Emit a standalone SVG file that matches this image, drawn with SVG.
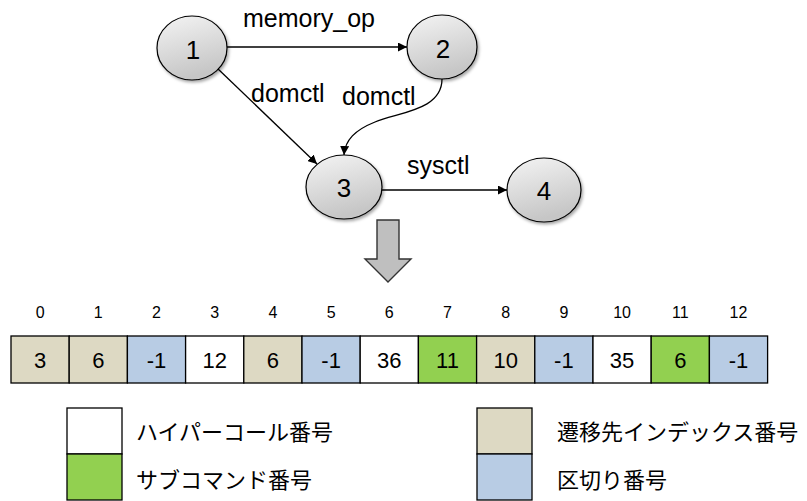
<svg xmlns="http://www.w3.org/2000/svg" width="807" height="501" viewBox="0 0 807 501">
<style>
.lbl{font-family:"Liberation Sans","DejaVu Sans",sans-serif;fill:#000}
.node ellipse{fill:url(#g);stroke:#000;stroke-width:1.2}
.ntxt{font-size:26px;text-anchor:middle}
.elbl{font-size:25px}
.edge{fill:none;stroke:#000;stroke-width:1.3;marker-end:url(#ah)}
.cell rect{stroke:#000;stroke-width:1.3}
.val{font-size:22px;text-anchor:middle}
.idx{font-size:16px;text-anchor:middle}
.jp{font-family:"Noto Sans CJK JP","Noto Sans CJK SC",sans-serif;font-size:22px;fill:#000}
.tan{fill:#ddd9c3}.blue{fill:#b8cce4}.green{fill:#92d050}.white{fill:#fff}
</style>
<defs>
<linearGradient id="g" x1="0" y1="0" x2="0.3" y2="1">
<stop offset="0" stop-color="#f4f4f4"/>
<stop offset="1" stop-color="#c6c6c6"/>
</linearGradient>
<marker id="ah" viewBox="0 0 10 10" refX="10" refY="5" markerWidth="9" markerHeight="9" markerUnits="userSpaceOnUse" orient="auto">
<path d="M0,0 L10,5 L0,10 z" fill="#000"/>
</marker>
<filter id="sh" x="-20%" y="-20%" width="150%" height="150%">
<feDropShadow dx="1.5" dy="2" stdDeviation="1.5" flood-color="#000" flood-opacity="0.35"/>
</filter>
</defs>

<g id="connectors">
<path class="edge" d="M227,47 L407,47"/>
<path class="edge" d="M217,68 L317,164"/>
<path class="edge" d="M442,79 C442,110 400,112 375,122 C355,130 345,140 344,155"/>
<path class="edge" d="M382,190 L507,190"/>
<text class="lbl elbl" x="243" y="27">memory_op</text>
<text class="lbl elbl" x="251" y="102">domctl</text>
<text class="lbl elbl" x="342" y="105">domctl</text>
<text class="lbl elbl" x="407" y="174">sysctl</text>
</g>

<g id="node1" class="node"><ellipse cx="192" cy="48" rx="35" ry="32" filter="url(#sh)"/><text class="lbl ntxt" x="193" y="59">1</text></g>
<g id="node2" class="node"><ellipse cx="442" cy="47" rx="35" ry="32" filter="url(#sh)"/><text class="lbl ntxt" x="443" y="58">2</text></g>
<g id="node3" class="node"><ellipse cx="344" cy="187" rx="38" ry="32" filter="url(#sh)"/><text class="lbl ntxt" x="344" y="197">3</text></g>
<g id="node4" class="node"><ellipse cx="544" cy="190" rx="37" ry="32" filter="url(#sh)"/><text class="lbl ntxt" x="544" y="200">4</text></g>

<g id="downarrow">
<path d="M377,220 L399,220 L399,259 L411,259 L388,282 L365,259 L377,259 Z" fill="#bfbfbf" stroke="#333" stroke-width="1.4"/>
</g>

<g id="array">
<g class="cell"><rect class="tan" x="11" y="336" width="58.2" height="47"/><text class="lbl idx" x="40.1" y="318">0</text><text class="lbl val" x="40.1" y="368">3</text></g>
<g class="cell"><rect class="tan" x="69.2" y="336" width="58.2" height="47"/><text class="lbl idx" x="98.3" y="318">1</text><text class="lbl val" x="98.3" y="368">6</text></g>
<g class="cell"><rect class="blue" x="127.4" y="336" width="58.2" height="47"/><text class="lbl idx" x="156.5" y="318">2</text><text class="lbl val" x="156.5" y="368">-1</text></g>
<g class="cell"><rect class="white" x="185.6" y="336" width="58.2" height="47"/><text class="lbl idx" x="214.7" y="318">3</text><text class="lbl val" x="214.7" y="368">12</text></g>
<g class="cell"><rect class="tan" x="243.8" y="336" width="58.2" height="47"/><text class="lbl idx" x="272.9" y="318">4</text><text class="lbl val" x="272.9" y="368">6</text></g>
<g class="cell"><rect class="blue" x="302" y="336" width="58.2" height="47"/><text class="lbl idx" x="331.1" y="318">5</text><text class="lbl val" x="331.1" y="368">-1</text></g>
<g class="cell"><rect class="white" x="360.2" y="336" width="58.2" height="47"/><text class="lbl idx" x="389.3" y="318">6</text><text class="lbl val" x="389.3" y="368">36</text></g>
<g class="cell"><rect class="green" x="418.4" y="336" width="58.2" height="47"/><text class="lbl idx" x="447.5" y="318">7</text><text class="lbl val" x="447.5" y="368">11</text></g>
<g class="cell"><rect class="tan" x="476.6" y="336" width="58.2" height="47"/><text class="lbl idx" x="505.7" y="318">8</text><text class="lbl val" x="505.7" y="368">10</text></g>
<g class="cell"><rect class="blue" x="534.8" y="336" width="58.2" height="47"/><text class="lbl idx" x="563.9" y="318">9</text><text class="lbl val" x="563.9" y="368">-1</text></g>
<g class="cell"><rect class="white" x="593" y="336" width="58.2" height="47"/><text class="lbl idx" x="622.1" y="318">10</text><text class="lbl val" x="622.1" y="368">35</text></g>
<g class="cell"><rect class="green" x="651.2" y="336" width="58.2" height="47"/><text class="lbl idx" x="680.3" y="318">11</text><text class="lbl val" x="680.3" y="368">6</text></g>
<g class="cell"><rect class="blue" x="709.4" y="336" width="58.2" height="47"/><text class="lbl idx" x="738.5" y="318">12</text><text class="lbl val" x="738.5" y="368">-1</text></g>
</g>

<g id="legend">
<g class="cell"><rect class="white" x="67" y="408" width="55" height="46"/><rect class="green" x="67" y="454" width="55" height="46"/></g>
<text class="jp" x="136" y="440">ハイパーコール番号</text>
<text class="jp" x="136" y="488">サブコマンド番号</text>
<g class="cell"><rect class="tan" x="477" y="408" width="55" height="46"/><rect class="blue" x="477" y="454" width="55" height="46"/></g>
<text class="jp" x="557" y="440">遷移先インデックス番号</text>
<text class="jp" x="557" y="488">区切り番号</text>
</g>
</svg>
